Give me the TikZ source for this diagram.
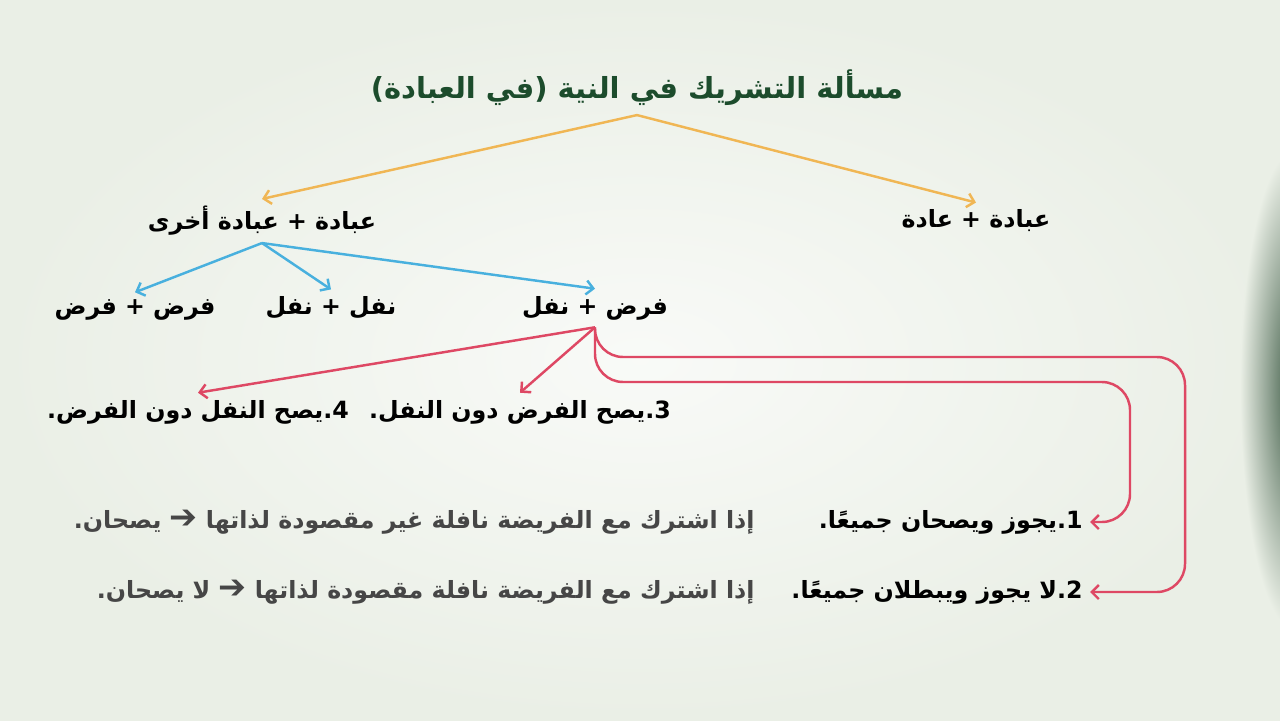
\documentclass[tikz,border=0pt]{standalone}
\usepackage{fontspec}
\TeXXeTstate=1
\newfontfamily\arabicfont[Script=Arabic]{DejaVu Sans}
\usetikzlibrary{arrows,arrows.meta}
\definecolor{bgpaper}{RGB}{234,239,230}
\definecolor{titlegreen}{RGB}{28,76,44}
\definecolor{orangeline}{RGB}{240,182,84}
\definecolor{blueline}{RGB}{72,176,222}
\definecolor{redline}{RGB}{222,72,100}
\definecolor{greytext}{RGB}{70,70,70}
\definecolor{leafgreen}{RGB}{58,88,66}
\newcommand{\artxt}[1]{{\arabicfont\bfseries\beginR #1\endR}}
\newcommand{\bigarr}{{\fontsize{19}{16}\selectfont ➔}}

\begin{document}
\begin{tikzpicture}[x=0.02cm,y=-0.02cm,
    txt/.style={font=\fontsize{13.5}{16}\selectfont, inner sep=4pt},
    ttl/.style={font=\fontsize{16.5}{20}\selectfont, text=titlegreen, inner sep=5pt},
    note/.style={txt, text=greytext},
    tip/.style={-{Straight Barb[length=4pt,width=8pt]}, line width=1.4pt},
    orangearr/.style={tip, orangeline},
    bluearr/.style={tip, blueline},
    redarr/.style={tip, redline, rounded corners=16}]
    % background
    \useasboundingbox (0,0) rectangle (1280,720);
    \fill[bgpaper] (0,0) rectangle (1280,720);
    \shade[inner color=white!70!bgpaper, outer color=bgpaper] (0,0) rectangle (1280,720);
    \shade[inner color=leafgreen, outer color=bgpaper] (1295,390) ellipse (55 and 240);

    % nodes
    \node[ttl] (title) at (637,88) {\artxt{مسألة التشريك في النية (في العبادة)}};
    \node[txt] (ibib) at (262,221) {\artxt{عبادة + عبادة أخرى}};
    \node[txt] (ibad) at (976,221) {\artxt{عبادة + عادة}};
    \node[txt] (ff) at (135,310) {\artxt{فرض + فرض}};
    \node[txt] (nn) at (331,308) {\artxt{نفل + نفل}};
    \node[txt] (fn) at (595,308) {\artxt{فرض + نفل}};
    \node[txt] (c3) at (520,412) {\artxt{3.يصح الفرض دون النفل.}};
    \node[txt] (c4) at (198,412) {\artxt{4.يصح النفل دون الفرض.}};
    \node[txt, anchor=east] (c1) at (1090,522) {\artxt{1.يجوز ويصحان جميعًا.}};
    \node[note, anchor=east] (r1) at (762,522) {\artxt{إذا اشترك مع الفريضة نافلة غير مقصودة لذاتها \bigarr{} يصحان.}};
    \node[txt, anchor=east] (c2) at (1090,592) {\artxt{2.لا يجوز ويبطلان جميعًا.}};
    \node[note, anchor=east] (r2) at (762,592) {\artxt{إذا اشترك مع الفريضة نافلة مقصودة لذاتها \bigarr{} لا يصحان.}};
    \coordinate (ro) at (1185,357);
    \coordinate (ri) at (1130,382);

    % connectors
    \draw[orangearr] (title.south) -- (ibib.north);
    \draw[orangearr] (title.south) -- (ibad.north);
    \draw[bluearr] (ibib.south) -- (ff.north);
    \draw[bluearr] (ibib.south) -- (nn.north);
    \draw[bluearr] (ibib.south) -- (fn.north);
    \draw[redarr] (fn.south) -- (c4.north);
    \draw[redarr] (fn.south) -- (c3.north);
    \draw[redarr] (fn.south) |- (ri) |- (c1.east);
    \draw[redarr] (fn.south) |- (ro) |- (c2.east);
\end{tikzpicture}
\end{document}
